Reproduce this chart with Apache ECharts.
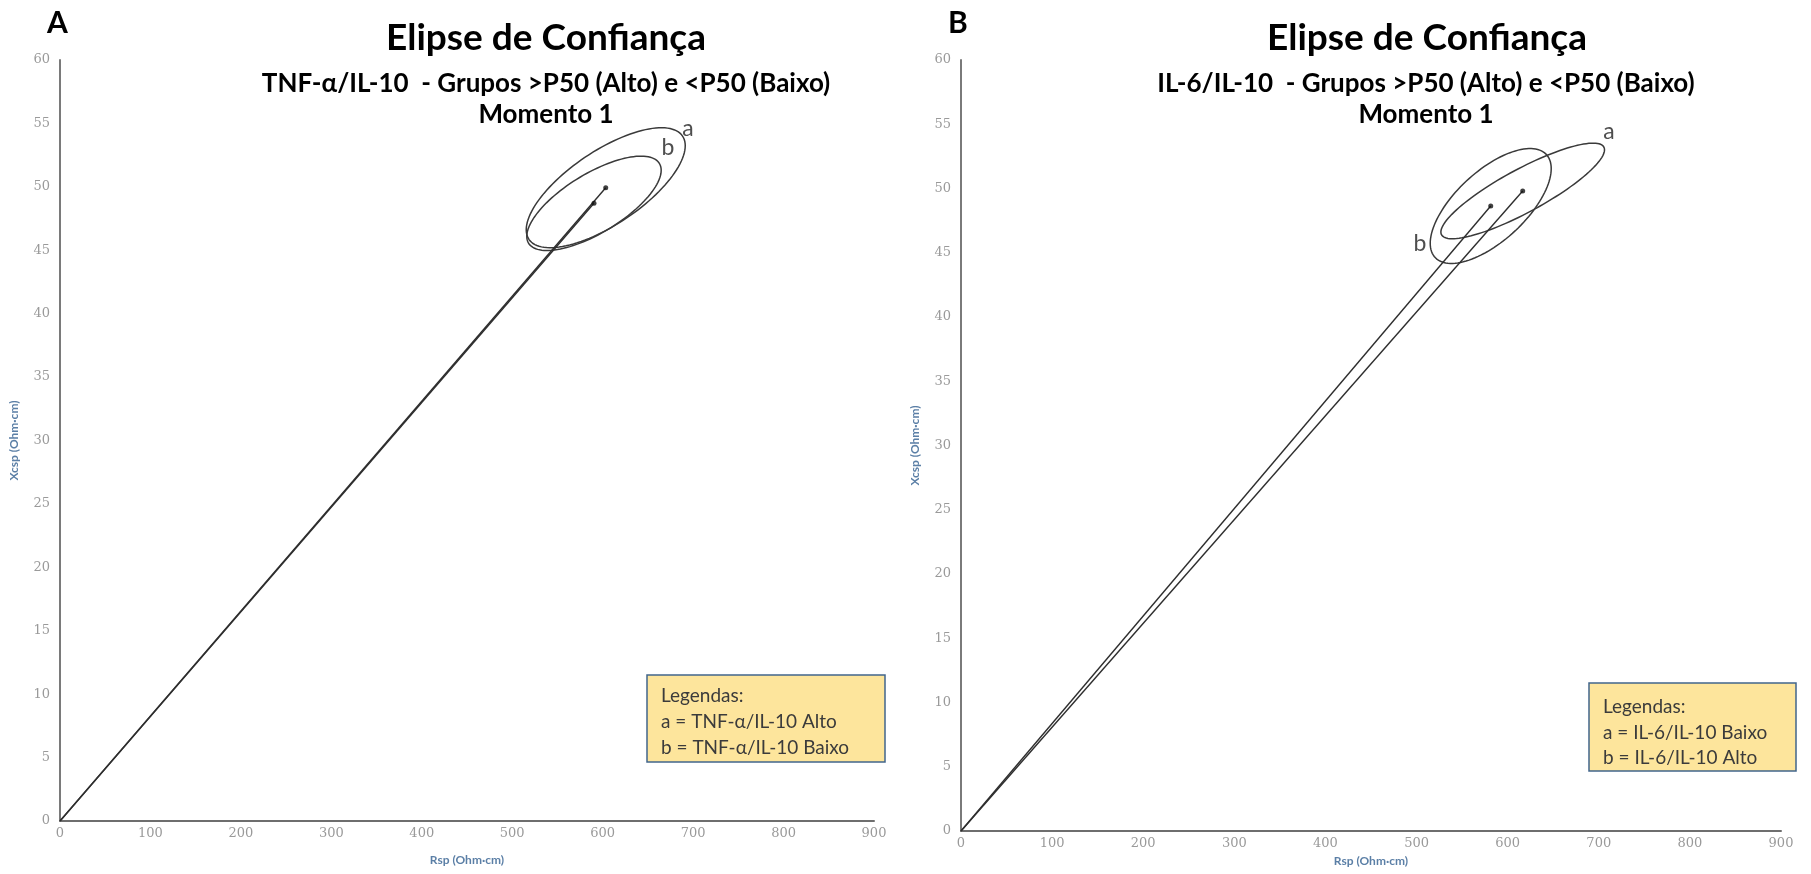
<!DOCTYPE html>
<html>
<head>
<meta charset="utf-8">
<script src="https://cdn.jsdelivr.net/npm/echarts@6/dist/echarts.min.js"></script>
<style>
html,body{margin:0;padding:0;background:#fff;}
#chart{width:1811px;height:874px;}
</style>
</head>
<body>
<div id="chart"></div>
<script>
// ---------- Data ----------
// Panel A: TNF-α/IL-10
const groupsA = ['a', 'b'];
const meanRspA = [603.4, 590.4];     // ellipse centres (mean vectors), Rsp
const meanXcspA = [49.93, 48.70];    // ellipse centres, Xcsp
const halfRspA = [87.9, 74.3];       // half extent of ellipse along Rsp
const halfXcspA = [4.73, 3.72];      // half extent of ellipse along Xcsp
const corrA = [0.70, 0.70];          // Rsp–Xcsp correlation (tilt)
const labelRspA = [694.4, 672.3];    // letter annotations
const labelXcspA = [54.6, 53.1];
const legendA = ['Legendas:', 'a = TNF-α/IL-10 Alto', 'b = TNF-α/IL-10 Baixo'];

// Panel B: IL-6/IL-10
const groupsB = ['a', 'b'];
const meanRspB = [616.5, 581.4];
const meanXcspB = [49.81, 48.64];
const halfRspB = [89.8, 66.4];
const halfXcspB = [3.72, 4.47];
const corrB = [0.86, 0.65];
const labelRspB = [711.2, 503.8];
const labelXcspB = [54.4, 45.7];
const legendB = ['Legendas:', 'a = IL-6/IL-10 Baixo', 'b = IL-6/IL-10 Alto'];

const titleMain = 'Elipse de Confiança';
const subtitleA = 'TNF-α/IL-10  - Grupos >P50 (Alto) e <P50 (Baixo)';
const subtitleB = 'IL-6/IL-10  - Grupos >P50 (Alto) e <P50 (Baixo)';
const moment = 'Momento 1';
const xName = 'Rsp (Ohm·cm)';
const yName = 'Xcsp (Ohm·cm)';

// ---------- Chart ----------
const FONT = 'Lato, "Open Sans", sans-serif';
const chart = echarts.init(document.getElementById('chart'), null, {renderer: 'canvas'});

function xAxisDef(gi) {
  return {
    gridIndex: gi, type: 'value', min: 0, max: 900, interval: 100,
    name: xName, nameLocation: 'middle', nameGap: gi === 0 ? 33 : 24,
    nameTextStyle: {color: '#5b7fa6', fontSize: 12, fontWeight: 'bold', fontFamily: FONT},
    axisLine: {show: true, onZero: false, lineStyle: {color: '#6e6e6e', width: 2}},
    axisTick: {show: false},
    splitLine: {show: false},
    axisLabel: {color: '#9a9a9a', fontSize: 13, margin: 6, fontFamily: '"DejaVu Serif", serif'}
  };
}
function yAxisDef(gi) {
  return {
    gridIndex: gi, type: 'value', min: 0, max: 60, interval: 5,
    name: yName, nameLocation: 'middle', nameGap: 40, nameRotate: 90,
    nameTextStyle: {color: '#5b7fa6', fontSize: 12, fontWeight: 'bold', fontFamily: FONT},
    axisLine: {show: true, onZero: false, lineStyle: {color: '#7a7a7a', width: 2}},
    axisTick: {show: false},
    splitLine: {show: false},
    axisLabel: {color: '#9a9a9a', fontSize: 13, margin: 10, fontFamily: '"DejaVu Serif", serif'}
  };
}

function ellipseSeries(gi, meanR, meanX, halfR, halfX, corr) {
  const data = meanR.map((m, i) => [m, meanX[i], halfR[i], halfX[i], corr[i]]);
  return {
    type: 'custom', xAxisIndex: gi, yAxisIndex: gi, silent: true,
    data: data,
    encode: {x: 0, y: 1},
    renderItem: function (params, api) {
      const cx = api.value(0), cy = api.value(1), a = api.value(2), b = api.value(3), r = api.value(4);
      const phi = Math.acos(r);
      const pts = [];
      const n = 120;
      for (let k = 0; k < n; k++) {
        const t = 2 * Math.PI * k / n;
        pts.push(api.coord([cx + a * Math.cos(t), cy + b * Math.cos(t - phi)]));
      }
      return {
        type: 'polygon',
        shape: {points: pts},
        style: {fill: 'none', stroke: '#3a3a3a', lineWidth: 1.5}
      };
    },
    z: 3
  };
}

function vectorSeries(gi, meanR, meanX) {
  return meanR.map((m, i) => ({
    type: 'line', xAxisIndex: gi, yAxisIndex: gi, silent: true,
    data: [[0, 0], [m, meanX[i]]],
    symbol: 'none',
    lineStyle: {color: '#2e2e2e', width: 1.4},
    z: 4
  }));
}

function dotSeries(gi, meanR, meanX) {
  return {
    type: 'scatter', xAxisIndex: gi, yAxisIndex: gi, silent: true,
    data: meanR.map((m, i) => [m, meanX[i]]),
    symbolSize: 5,
    itemStyle: {color: '#111'},
    z: 5
  };
}

function letterSeries(gi, groups, lr, lx) {
  return {
    type: 'scatter', xAxisIndex: gi, yAxisIndex: gi, silent: true,
    data: groups.map((g, i) => ({value: [lr[i], lx[i]], name: g})),
    symbolSize: 0,
    label: {show: true, position: 'inside', formatter: '{b}', color: '#222', fontSize: 23, fontFamily: FONT},
    z: 6
  };
}

function legendBox(x, y, w, h, lines, tx, ty, gap) {
  const children = [{
    type: 'rect', shape: {x: x, y: y, width: w, height: h},
    style: {fill: '#fde59c', stroke: '#41658c', lineWidth: 1.5}
  }];
  lines.forEach((s, i) => {
    children.push({
      type: 'text',
      style: {text: s, x: tx, y: ty + i * gap, fill: '#3b3b3b', font: '19px ' + FONT, textVerticalAlign: 'middle'}
    });
  });
  return {type: 'group', children: children};
}

const T = {fontWeight: 'bold', color: '#000', fontFamily: FONT};
const option = {
  backgroundColor: '#ffffff',
  animation: false,
  title: [
    {text: titleMain, left: 541, top: 15, textAlign: 'center', textStyle: Object.assign({fontSize: 37}, T)},
    {text: subtitleA, left: 541, top: 66, textAlign: 'center', textStyle: Object.assign({fontSize: 26}, T)},
    {text: moment, left: 541, top: 97, textAlign: 'center', textStyle: Object.assign({fontSize: 26}, T)},
    {text: titleMain, left: 1422, top: 15, textAlign: 'center', textStyle: Object.assign({fontSize: 37}, T)},
    {text: subtitleB, left: 1421, top: 66, textAlign: 'center', textStyle: Object.assign({fontSize: 26}, T)},
    {text: moment, left: 1421, top: 97, textAlign: 'center', textStyle: Object.assign({fontSize: 26}, T)},
    {text: 'A', left: 42, top: 3, textStyle: Object.assign({fontSize: 30}, T)},
    {text: 'B', left: 943, top: 3, textStyle: Object.assign({fontSize: 30}, T)}
  ],
  grid: [
    {left: 60, top: 60, width: 814, height: 761, containLabel: false},
    {left: 961, top: 60, width: 820, height: 771, containLabel: false}
  ],
  xAxis: [xAxisDef(0), xAxisDef(1)],
  yAxis: [yAxisDef(0), yAxisDef(1)],
  series: [
    ellipseSeries(0, meanRspA, meanXcspA, halfRspA, halfXcspA, corrA),
    ...vectorSeries(0, meanRspA, meanXcspA),
    dotSeries(0, meanRspA, meanXcspA),
    letterSeries(0, groupsA, labelRspA, labelXcspA),
    ellipseSeries(1, meanRspB, meanXcspB, halfRspB, halfXcspB, corrB),
    ...vectorSeries(1, meanRspB, meanXcspB),
    dotSeries(1, meanRspB, meanXcspB),
    letterSeries(1, groupsB, labelRspB, labelXcspB)
  ],
  graphic: [
    legendBox(647, 675, 238, 87, legendA, 661, 696, 26),
    legendBox(1589, 683, 207, 88, legendB, 1603, 707, 25.5)
  ]
};
chart.setOption(option);
</script>
</body>
</html>
